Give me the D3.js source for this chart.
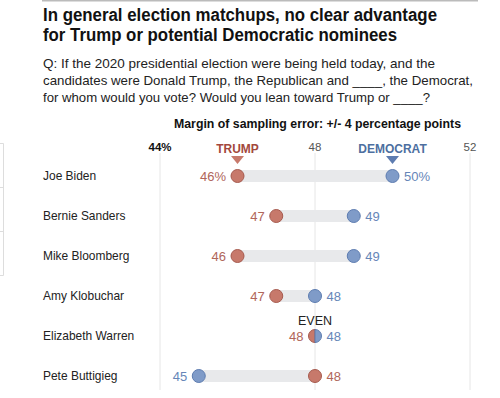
<!DOCTYPE html>
<html><head><meta charset="utf-8">
<script src="https://cdn.jsdelivr.net/npm/d3@7"></script>
<style>body{margin:0;background:#fff}svg{display:block}</style>
</head><body>
<svg id="c" width="500" height="398"></svg>
<script>
const candidates = ["Joe Biden","Bernie Sanders","Mike Bloomberg","Amy Klobuchar","Elizabeth Warren","Pete Buttigieg"];
const trumpValues = [46,47,46,47,48,48];
const democratValues = [50,49,49,48,48,45];
const tickValues = [44,48,52];
const tickLabels = ["44%","48","52"];
const titleLines = ["In general election matchups, no clear advantage","for Trump or potential Democratic nominees"];
const subtitleLines = ["Q: If the 2020 presidential election were being held today, and the",
  "candidates were Donald Trump, the Republican and ____, the Democrat,",
  "for whom would you vote? Would you lean toward Trump or ____?"];
const marginNote = "Margin of sampling error: +/- 4 percentage points";

const svg = d3.select("#c");
const font = "'Liberation Sans', Arial, sans-serif";
const RED="#c7796b", REDS="#a65a4e", REDT="#b0665a", REDL="#a3483d";
const BLUE="#7f9bc8", BLUES="#5d7cb0", BLUET="#6686b8", BLUEL="#4d6f9f";

// left artifact lines
svg.append("path").attr("d","M0,143.5H3.5V275.5H0M0,187.5H3.5M0,231.5H3.5").attr("fill","none").attr("stroke","#ddd").attr("stroke-width",1);
// top rule
svg.append("line").attr("x1",42).attr("x2",478).attr("y1",0.5).attr("y2",0.5).attr("stroke","#bbb").attr("stroke-width",2);

const titleWidths=[394,354];
const title = svg.append("text").attr("font-family",font).attr("font-weight","bold").attr("font-size",17.5).attr("fill","#111");
titleLines.forEach((t,i)=>title.append("tspan").attr("x",43).attr("y",20.5+i*20.5).attr("textLength",titleWidths[i]).attr("lengthAdjust","spacingAndGlyphs").text(t));
const subWidths=[392,430,387];
const sub = svg.append("text").attr("font-family",font).attr("font-size",13.6).attr("fill","#222");
subtitleLines.forEach((t,i)=>sub.append("tspan").attr("x",43).attr("y",68+i*17).attr("textLength",subWidths[i]).attr("lengthAdjust","spacingAndGlyphs").text(t));
svg.append("text").attr("x",174).attr("y",128).attr("font-family",font).attr("font-weight","bold").attr("font-size",12.5).attr("fill","#111")
  .attr("textLength",287).attr("lengthAdjust","spacingAndGlyphs").text(marginNote);

const x = d3.scaleLinear().domain([44,52]).range([160,470]);
const y = d3.scalePoint().domain(candidates).range([176,376]);

// gridlines
svg.append("g").selectAll("line").data(tickValues).join("line")
  .attr("x1",d=>x(d)).attr("x2",d=>x(d)).attr("y1",153).attr("y2",390)
  .attr("stroke","#e6e6e6").attr("stroke-width",1);
svg.append("g").selectAll("text").data(tickValues).join("text")
  .attr("x",d=>x(d)).attr("y",151).attr("text-anchor","middle")
  .attr("font-family",font).attr("font-size",11.5)
  .attr("font-weight",(d,i)=>i===0?"bold":"normal")
  .attr("fill",(d,i)=>i===0?"#111":"#555")
  .text((d,i)=>tickLabels[i]);

// names
svg.append("g").attr("transform","translate(43,0) scale(0.92,1)")
  .selectAll("text").data(candidates).join("text")
  .attr("x",0).attr("y",d=>y(d)+4.5).attr("font-family",font).attr("font-size",13).attr("fill","#222").text(d=>d);

const rows = candidates.map((c,i)=>({c,t:trumpValues[i],d:democratValues[i],i}));
// bars
svg.append("g").selectAll("rect").data(rows).join("rect")
  .attr("x",r=>x(Math.min(r.t,r.d))).attr("width",r=>Math.abs(x(r.t)-x(r.d)))
  .attr("y",r=>y(r.c)-6).attr("height",12).attr("fill","#e8e9eb");

// dots
const R=6.5;
rows.forEach(r=>{
  const g = svg.append("g");
  const cy=y(r.c);
  if(r.t===r.d){
    const cx=x(r.t);
    g.append("path").attr("d",`M${cx},${cy-R}A${R},${R} 0 0 0 ${cx},${cy+R}Z`).attr("fill",RED).attr("stroke",REDS).attr("stroke-width",1);
    g.append("path").attr("d",`M${cx},${cy-R}A${R},${R} 0 0 1 ${cx},${cy+R}Z`).attr("fill",BLUE).attr("stroke",BLUES).attr("stroke-width",1);
    g.append("text").attr("x",cx).attr("y",cy-11).attr("text-anchor","middle").attr("font-family",font).attr("font-size",12.5).attr("fill","#222").text("EVEN");
  } else {
    g.append("circle").attr("cx",x(r.t)).attr("cy",cy).attr("r",R).attr("fill",RED).attr("stroke",REDS).attr("stroke-width",1);
    g.append("circle").attr("cx",x(r.d)).attr("cy",cy).attr("r",R).attr("fill",BLUE).attr("stroke",BLUES).attr("stroke-width",1);
  }
  const suf = r.i===0?"%":"";
  const tLeft = r.t<=r.d;
  g.append("text").attr("x",x(r.t)+(tLeft?-(R+5):(R+5))).attr("y",cy+4.5)
    .attr("text-anchor",tLeft?"end":"start").attr("font-family",font).attr("font-size",13).attr("fill",REDT).text(r.t+suf);
  g.append("text").attr("x",x(r.d)+(tLeft?(R+5):-(R+5))).attr("y",cy+4.5)
    .attr("text-anchor",tLeft?"start":"end").attr("font-family",font).attr("font-size",13).attr("fill",BLUET).text(r.d+suf);
});

// headers
const hdr=[{k:"TRUMP",v:trumpValues[0],c:REDL,f:RED},{k:"DEMOCRAT",v:democratValues[0],c:BLUEL,f:BLUES}];
hdr.forEach(h=>{
  const cx=x(h.v);
  svg.append("text").attr("x",cx).attr("y",153).attr("text-anchor","middle").attr("font-family",font).attr("font-weight","bold").attr("font-size",12).attr("fill",h.c).text(h.k);
  svg.append("path").attr("d",`M${cx-6.5},156L${cx+6.5},156L${cx},164Z`).attr("fill",h.f);
});
</script>
</body></html>
